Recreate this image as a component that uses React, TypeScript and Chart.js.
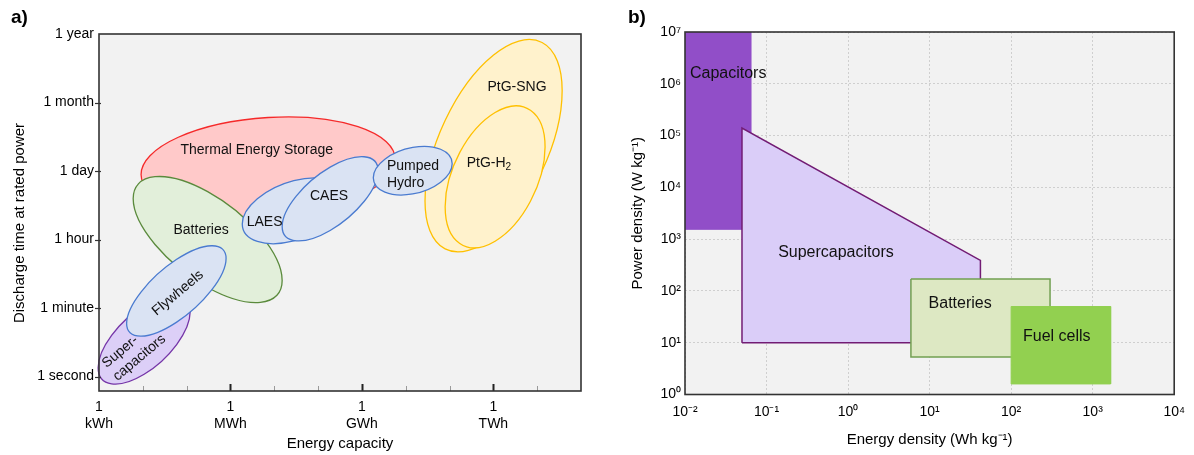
import React, { useEffect, useRef } from 'react';
import { Chart, registerables } from 'chart.js';

Chart.register(...registerables);

const FONT = "'Liberation Sans', Arial, Helvetica, sans-serif";

// ---------------- Panel a: energy capacity vs discharge time ----------------
// x: log10(energy capacity in kWh); y: discharge-time step (0 = 1 second ... 5 = 1 year)
const timeTickLabels = ['1 second', '1 minute', '1 hour', '1 day', '1 month', '1 year'];
const capacityDecades = [0, 1, 2, 3, 4, 5, 6, 7, 8, 9, 10];
const capacityMajorTicks = [0, 3, 6, 9];
const capacityUnitLabels = ['kWh', 'MWh', 'GWh', 'TWh'];

const techNames = [
  'Thermal Energy Storage', 'Batteries', 'PtG-SNG', 'PtG-H2', 'LAES', 'CAES',
  'Pumped Hydro', 'Supercapacitors', 'Flywheels',
];
const techCapMin = [0.96, 0.78, 7.44, 7.9, 3.27, 4.18, 6.26, -0.02, 0.63];
const techCapMax = [6.76, 4.18, 10.57, 10.18, 5.62, 6.37, 8.06, 2.08, 2.9];
const techTimeMin = [2.33, 1.08, 1.82, 1.88, 1.94, 1.98, 2.65, -0.11, 0.59];
const techTimeMax = [3.79, 2.92, 4.92, 3.95, 2.9, 3.21, 3.36, 1.18, 1.91];
// tilt of each region (correlation between capacity and discharge time)
const techTilt = [0.15, -0.65, 0.52, 0.42, 0.4, 0.66, 0.29, 0.63, 0.72];

// label text ("_" marks a subscript), anchor (data units), rotation, alignment
const techLabelLines = [
  ['Thermal Energy Storage'], ['Batteries'], ['PtG-SNG'], ['PtG-H_2'], ['LAES'], ['CAES'],
  ['Pumped', 'Hydro'], ['Super-', 'capacitors'], ['Flywheels'],
];
const techLabelCap = [3.6, 2.33, 9.54, 8.9, 3.78, 5.25, 6.57, 0.24, 1.8];
const techLabelTime = [3.31, 2.14, 4.23, 3.12, 2.25, 2.64, 2.95, 0.07, 1.22];
const techLabelAngle = [0, 0, 0, 0, 0, 0, 0, -40, -40];
const techLabelAlign = ['center', 'center', 'center', 'center', 'center', 'center', 'left', 'left', 'center'];

const techFill = ['#FFC9C9', '#E2EFDA', '#FFF2CC', '#FFF2CC', '#DAE3F3', '#DAE3F3', '#DAE3F3', '#DCCFF7', '#DAE3F3'];
const techStroke = ['#F52A2A', '#5A8A3C', '#FFC000', '#FFC000', '#4A7BD0', '#4A7BD0', '#4A7BD0', '#7535A8', '#4A7BD0'];

// ---------------- Panel b: Ragone plot ----------------
const energyDecades = [-2, -1, 0, 1, 2, 3, 4];
const powerDecades = [0, 1, 2, 3, 4, 5, 6, 7];

const capacitorsEnergy = [0.01, 0.064, 0.064, 0.01, 0.01];
const capacitorsPower = [1e7, 1e7, 1550, 1550, 1e7];
const supercapEnergy = [0.05, 0.05, 42, 42, 0.05];
const supercapPower = [10, 1.4e5, 390, 10, 10];
const batteriesEnergy = [5.9, 300, 300, 5.9, 5.9];
const batteriesPower = [170, 170, 5.3, 5.3, 170];
const fuelCellsEnergy = [100, 1660, 1660, 100, 100];
const fuelCellsPower = [50, 50, 1.6, 1.6, 50];

const regionLabels = ['Capacitors', 'Supercapacitors', 'Batteries', 'Fuel cells'];
const regionLabelEnergy = [0.0115, 0.71, 23.7, 363];
const regionLabelPower = [1.6e6, 540, 56, 12.9];
const regionLabelAlign = ['left', 'center', 'center', 'center'];

const SUP: Record<string, string> = {
  '-': '\u207B', '0': '\u2070', '1': '\u00B9', '2': '\u00B2', '3': '\u00B3',
  '4': '\u2074', '5': '\u2075', '6': '\u2076', '7': '\u2077', '8': '\u2078', '9': '\u2079',
};
const sup = (n: number) => String(n).split('').map((c) => SUP[c] || c).join('');

function drawLabel(ctx: CanvasRenderingContext2D, lines: string[], px: number, py: number,
  angleDeg: number, align: string, size: number) {
  ctx.save();
  ctx.translate(px, py);
  ctx.rotate((angleDeg * Math.PI) / 180);
  ctx.fillStyle = '#111';
  ctx.textBaseline = 'middle';
  ctx.textAlign = 'left';
  const lh = size * 1.2;
  lines.forEach((line, k) => {
    const yy = (k - (lines.length - 1) / 2) * lh;
    const [base, sub] = line.split('_');
    ctx.font = `${size}px ${FONT}`;
    const wb = ctx.measureText(base).width;
    let ws = 0;
    if (sub) {
      ctx.font = `${size * 0.72}px ${FONT}`;
      ws = ctx.measureText(sub).width;
    }
    const x0 = align === 'left' ? 0 : -(wb + ws) / 2;
    ctx.font = `${size}px ${FONT}`;
    ctx.fillText(base, x0, yy);
    if (sub) {
      ctx.font = `${size * 0.72}px ${FONT}`;
      ctx.fillText(sub, x0 + wb, yy + size * 0.3);
    }
  });
  ctx.restore();
}

const bgPlugin = {
  id: 'plotBg',
  beforeDraw(chart: any) {
    const { ctx, chartArea: ca } = chart;
    ctx.save();
    ctx.fillStyle = '#F2F2F2';
    ctx.fillRect(ca.left, ca.top, ca.right - ca.left, ca.bottom - ca.top);
    ctx.restore();
  },
};

const ellipsePlugin = {
  id: 'techEllipses',
  beforeDatasetsDraw(chart: any) {
    const { ctx, scales: { x, y } } = chart;
    techNames.forEach((_, i) => {
      const cx = (techCapMin[i] + techCapMax[i]) / 2;
      const cy = (techTimeMin[i] + techTimeMax[i]) / 2;
      const rx = (techCapMax[i] - techCapMin[i]) / 2;
      const ry = (techTimeMax[i] - techTimeMin[i]) / 2;
      const r = techTilt[i];
      const Cx = x.getPixelForValue(cx);
      const Cy = y.getPixelForValue(cy);
      const Ux = x.getPixelForValue(cx + rx) - Cx;
      const Uy = y.getPixelForValue(cy + ry * r) - Cy;
      const Vy = y.getPixelForValue(cy + ry * Math.sqrt(1 - r * r)) - Cy;
      ctx.save();
      ctx.beginPath();
      ctx.save();
      ctx.transform(Ux, Uy, 0, Vy, Cx, Cy);
      ctx.arc(0, 0, 1, 0, Math.PI * 2);
      ctx.restore();
      ctx.closePath();
      ctx.fillStyle = techFill[i];
      ctx.fill();
      ctx.lineWidth = 1.3;
      ctx.strokeStyle = techStroke[i];
      ctx.stroke();
      ctx.restore();
    });
  },
  afterDatasetsDraw(chart: any) {
    const { ctx, scales: { x, y } } = chart;
    techLabelLines.forEach((lines, i) => {
      drawLabel(ctx, lines, x.getPixelForValue(techLabelCap[i]), y.getPixelForValue(techLabelTime[i]),
        techLabelAngle[i], techLabelAlign[i], 14);
    });
  },
};

const frameAPlugin = {
  id: 'frameA',
  afterDraw(chart: any) {
    const { ctx, chartArea: ca, scales: { x, y } } = chart;
    ctx.save();
    // x ticks (inward)
    capacityDecades.forEach((v) => {
      if (v === 0) return;
      const px = Math.round(x.getPixelForValue(v)) + 0.5;
      const major = capacityMajorTicks.includes(v);
      ctx.beginPath();
      ctx.strokeStyle = major ? '#222' : '#9a9a9a';
      ctx.lineWidth = major ? 2 : 1;
      ctx.moveTo(px, ca.bottom);
      ctx.lineTo(px, ca.bottom - (major ? 7 : 5));
      ctx.stroke();
    });
    // y ticks
    timeTickLabels.forEach((_, i) => {
      if (i === timeTickLabels.length - 1) return;
      const py = Math.round(y.getPixelForValue(i)) + 0.5;
      ctx.beginPath();
      ctx.strokeStyle = '#333';
      ctx.lineWidth = 1.2;
      ctx.moveTo(ca.left - 4, py);
      ctx.lineTo(ca.left + 2, py);
      ctx.stroke();
    });
    ctx.strokeStyle = '#333';
    ctx.lineWidth = 1.6;
    ctx.strokeRect(ca.left, ca.top, ca.right - ca.left, ca.bottom - ca.top);
    // y axis title
    ctx.translate(20, 223);
    ctx.rotate(-Math.PI / 2);
    ctx.font = `15px ${FONT}`;
    ctx.fillStyle = '#000';
    ctx.textAlign = 'center';
    ctx.textBaseline = 'middle';
    ctx.fillText('Discharge time at rated power', 0, 0);
    ctx.restore();
  },
};

const regionLabelPlugin = {
  id: 'regionLabels',
  afterDatasetsDraw(chart: any) {
    const { ctx, scales: { x, y } } = chart;
    regionLabels.forEach((t, i) => {
      drawLabel(ctx, [t], x.getPixelForValue(regionLabelEnergy[i]), y.getPixelForValue(regionLabelPower[i]),
        0, regionLabelAlign[i], 16);
    });
  },
};

const frameBPlugin = {
  id: 'frameB',
  afterDraw(chart: any) {
    const { ctx, chartArea: ca } = chart;
    ctx.save();
    ctx.strokeStyle = '#333';
    ctx.lineWidth = 1.6;
    ctx.strokeRect(ca.left, ca.top, ca.right - ca.left, ca.bottom - ca.top);
    ctx.restore();
  },
};

function region(label: string, xs: number[], ys: number[], fill: string, stroke: string, width: number) {
  return {
    label,
    data: xs.map((v, i) => ({ x: v, y: ys[i] })),
    backgroundColor: fill,
    borderColor: stroke,
    borderWidth: width,
    fill: 'shape',
    pointRadius: 0,
    tension: 0,
  };
}

export default function App() {
  const refA = useRef<HTMLCanvasElement>(null);
  const refB = useRef<HTMLCanvasElement>(null);

  useEffect(() => {
    const tickFont = { family: FONT, size: 14 };
    const chartA = new Chart(refA.current as HTMLCanvasElement, {
      type: 'scatter',
      data: { datasets: [] },
      options: {
        animation: false,
        responsive: false,
        layout: { padding: { top: 34, right: 19, left: 0, bottom: 0 } },
        plugins: { legend: { display: false }, tooltip: { enabled: false } },
        scales: {
          x: {
            type: 'linear',
            min: 0,
            max: 11,
            grid: { display: false, drawTicks: false },
            border: { display: false },
            afterBuildTicks: (s: any) => { s.ticks = capacityDecades.map((v) => ({ value: v })); },
            afterFit: (s: any) => { s.height = 64; },
            ticks: {
              autoSkip: false,
              maxRotation: 0,
              padding: 8,
              color: '#000',
              font: tickFont,
              callback: (v: any) => {
                const k = capacityMajorTicks.indexOf(Number(v));
                return k >= 0 ? ['1', capacityUnitLabels[k]] : '';
              },
            },
            title: {
              display: true,
              text: 'Energy capacity',
              color: '#000',
              font: { family: FONT, size: 15 },
              padding: { top: 0, bottom: 2 },
            },
          },
          y: {
            type: 'linear',
            min: -0.21,
            max: 5,
            grid: { display: false, drawTicks: false },
            border: { display: false },
            afterBuildTicks: (s: any) => { s.ticks = timeTickLabels.map((_, i) => ({ value: i })); },
            afterFit: (s: any) => { s.width = 99; },
            ticks: {
              autoSkip: false,
              padding: 5,
              color: '#000',
              font: tickFont,
              callback: (v: any) => timeTickLabels[Number(v)] ?? '',
            },
          },
        },
      },
      plugins: [bgPlugin, ellipsePlugin, frameAPlugin],
    } as any);

    const chartB = new Chart(refB.current as HTMLCanvasElement, {
      type: 'line',
      data: {
        datasets: [
          region('Fuel cells', fuelCellsEnergy, fuelCellsPower, '#92D050', '#92D050', 1),
          region('Batteries', batteriesEnergy, batteriesPower, '#DDE8C3', '#72A052', 1.5),
          region('Supercapacitors', supercapEnergy, supercapPower, '#DACDF8', '#721C74', 1.5),
          region('Capacitors', capacitorsEnergy, capacitorsPower, '#914EC8', '#914EC8', 1),
        ],
      },
      options: {
        animation: false,
        responsive: false,
        layout: { padding: { top: 32, right: 18, left: 0, bottom: 0 } },
        plugins: {
          legend: { display: false },
          tooltip: { enabled: false },
          filler: { drawTime: 'beforeDatasetDraw' },
        },
        scales: {
          x: {
            type: 'logarithmic',
            min: 0.01,
            max: 1e4,
            grid: { color: '#CFCFCF', lineWidth: 1, drawTicks: false },
            border: { display: false, dash: [2, 2] },
            afterBuildTicks: (s: any) => { s.ticks = energyDecades.map((e) => ({ value: Math.pow(10, e) })); },
            afterFit: (s: any) => { s.height = 60.5; },
            ticks: {
              autoSkip: false,
              maxRotation: 0,
              padding: 9,
              color: '#000',
              font: tickFont,
              callback: (v: any) => '10' + sup(Math.round(Math.log10(Number(v)))),
            },
            title: {
              display: true,
              text: 'Energy density (Wh kg\u207B\u00B9)',
              color: '#000',
              font: { family: FONT, size: 15 },
              padding: { top: 0, bottom: 6 },
            },
          },
          y: {
            type: 'logarithmic',
            min: 1,
            max: 1e7,
            grid: { color: '#CFCFCF', lineWidth: 1, drawTicks: false },
            border: { display: false, dash: [2, 2] },
            afterBuildTicks: (s: any) => { s.ticks = powerDecades.map((e) => ({ value: Math.pow(10, e) })); },
            afterFit: (s: any) => { s.width = 85; },
            ticks: {
              autoSkip: false,
              padding: 4,
              color: '#000',
              font: tickFont,
              callback: (v: any) => '10' + sup(Math.round(Math.log10(Number(v)))),
            },
            title: {
              display: true,
              text: 'Power density (W kg\u207B\u00B9)',
              color: '#000',
              font: { family: FONT, size: 15 },
              padding: { top: 29, bottom: 0 },
            },
          },
        },
      },
      plugins: [bgPlugin, regionLabelPlugin, frameBPlugin],
    } as any);

    return () => {
      chartA.destroy();
      chartB.destroy();
    };
  }, []);

  const panelLetter: React.CSSProperties = {
    position: 'absolute',
    top: 6,
    font: `bold 19px ${FONT}`,
    color: '#000',
  };

  return (
    <div style={{ position: 'fixed', left: 0, top: 0, width: 1194, height: 455, background: '#fff' }}>
      <canvas ref={refA} width={600} height={455}
        style={{ position: 'absolute', left: 0, top: 0, width: 600, height: 455 }} />
      <canvas ref={refB} width={594} height={455}
        style={{ position: 'absolute', left: 600, top: 0, width: 594, height: 455 }} />
      <div style={{ ...panelLetter, left: 11 }}>a)</div>
      <div style={{ ...panelLetter, left: 628 }}>b)</div>
    </div>
  );
}
